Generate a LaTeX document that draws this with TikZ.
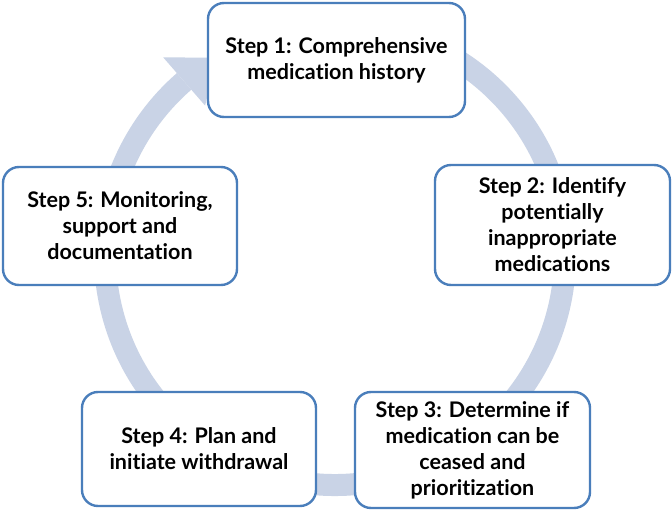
\documentclass[tikz,border=0pt]{standalone}
\usepackage{fontspec}
\setmainfont{Lato}[Ligatures={NoCommon}]
\begin{document}
\begin{tikzpicture}[x=1pt,y=-1pt]
\definecolor{ringc}{HTML}{C9D3E6}
\definecolor{boxc}{HTML}{4A7EBB}
\tikzset{
  stepbox/.style={draw=boxc, line width=2.4pt, rounded corners=16pt, fill=white,
    align=center, inner sep=0pt, font=\fontsize{21.5}{26}\selectfont\bfseries, text=black},
}
\useasboundingbox (0,0) rectangle (672,510);
\fill[white] (0,0) rectangle (672,510);
% ring
\coordinate (c) at (335,255);
\draw[ringc, line width=22pt] ([shift={(-100:230)}]c) arc[start angle=-100, end angle=229, radius=230];
\fill[ringc] ([shift={(-131:262)}]c) -- ([shift={(-121:230)}]c) -- ([shift={(-131:198)}]c) -- cycle;
% boxes
\node[stepbox, minimum width=257pt, minimum height=114pt] (s1) at (336.5,60) {Step 1: Comprehensive\\medication history};
\node[stepbox, minimum width=235pt, minimum height=120pt] (s2) at (552.5,225) {Step 2: Identify\\potentially\\inappropriate\\medications};
\node[stepbox, minimum width=235pt, minimum height=116pt] (s3) at (472.5,450) {Step 3: Determine if\\medication can be\\ceased and\\prioritization};
\node[stepbox, minimum width=234pt, minimum height=114pt] (s4) at (199,449) {Step 4: Plan and\\initiate withdrawal};
\node[stepbox, minimum width=234pt, minimum height=118pt] (s5) at (120,226) {Step 5: Monitoring,\\support and\\documentation};
\end{tikzpicture}
\end{document}
